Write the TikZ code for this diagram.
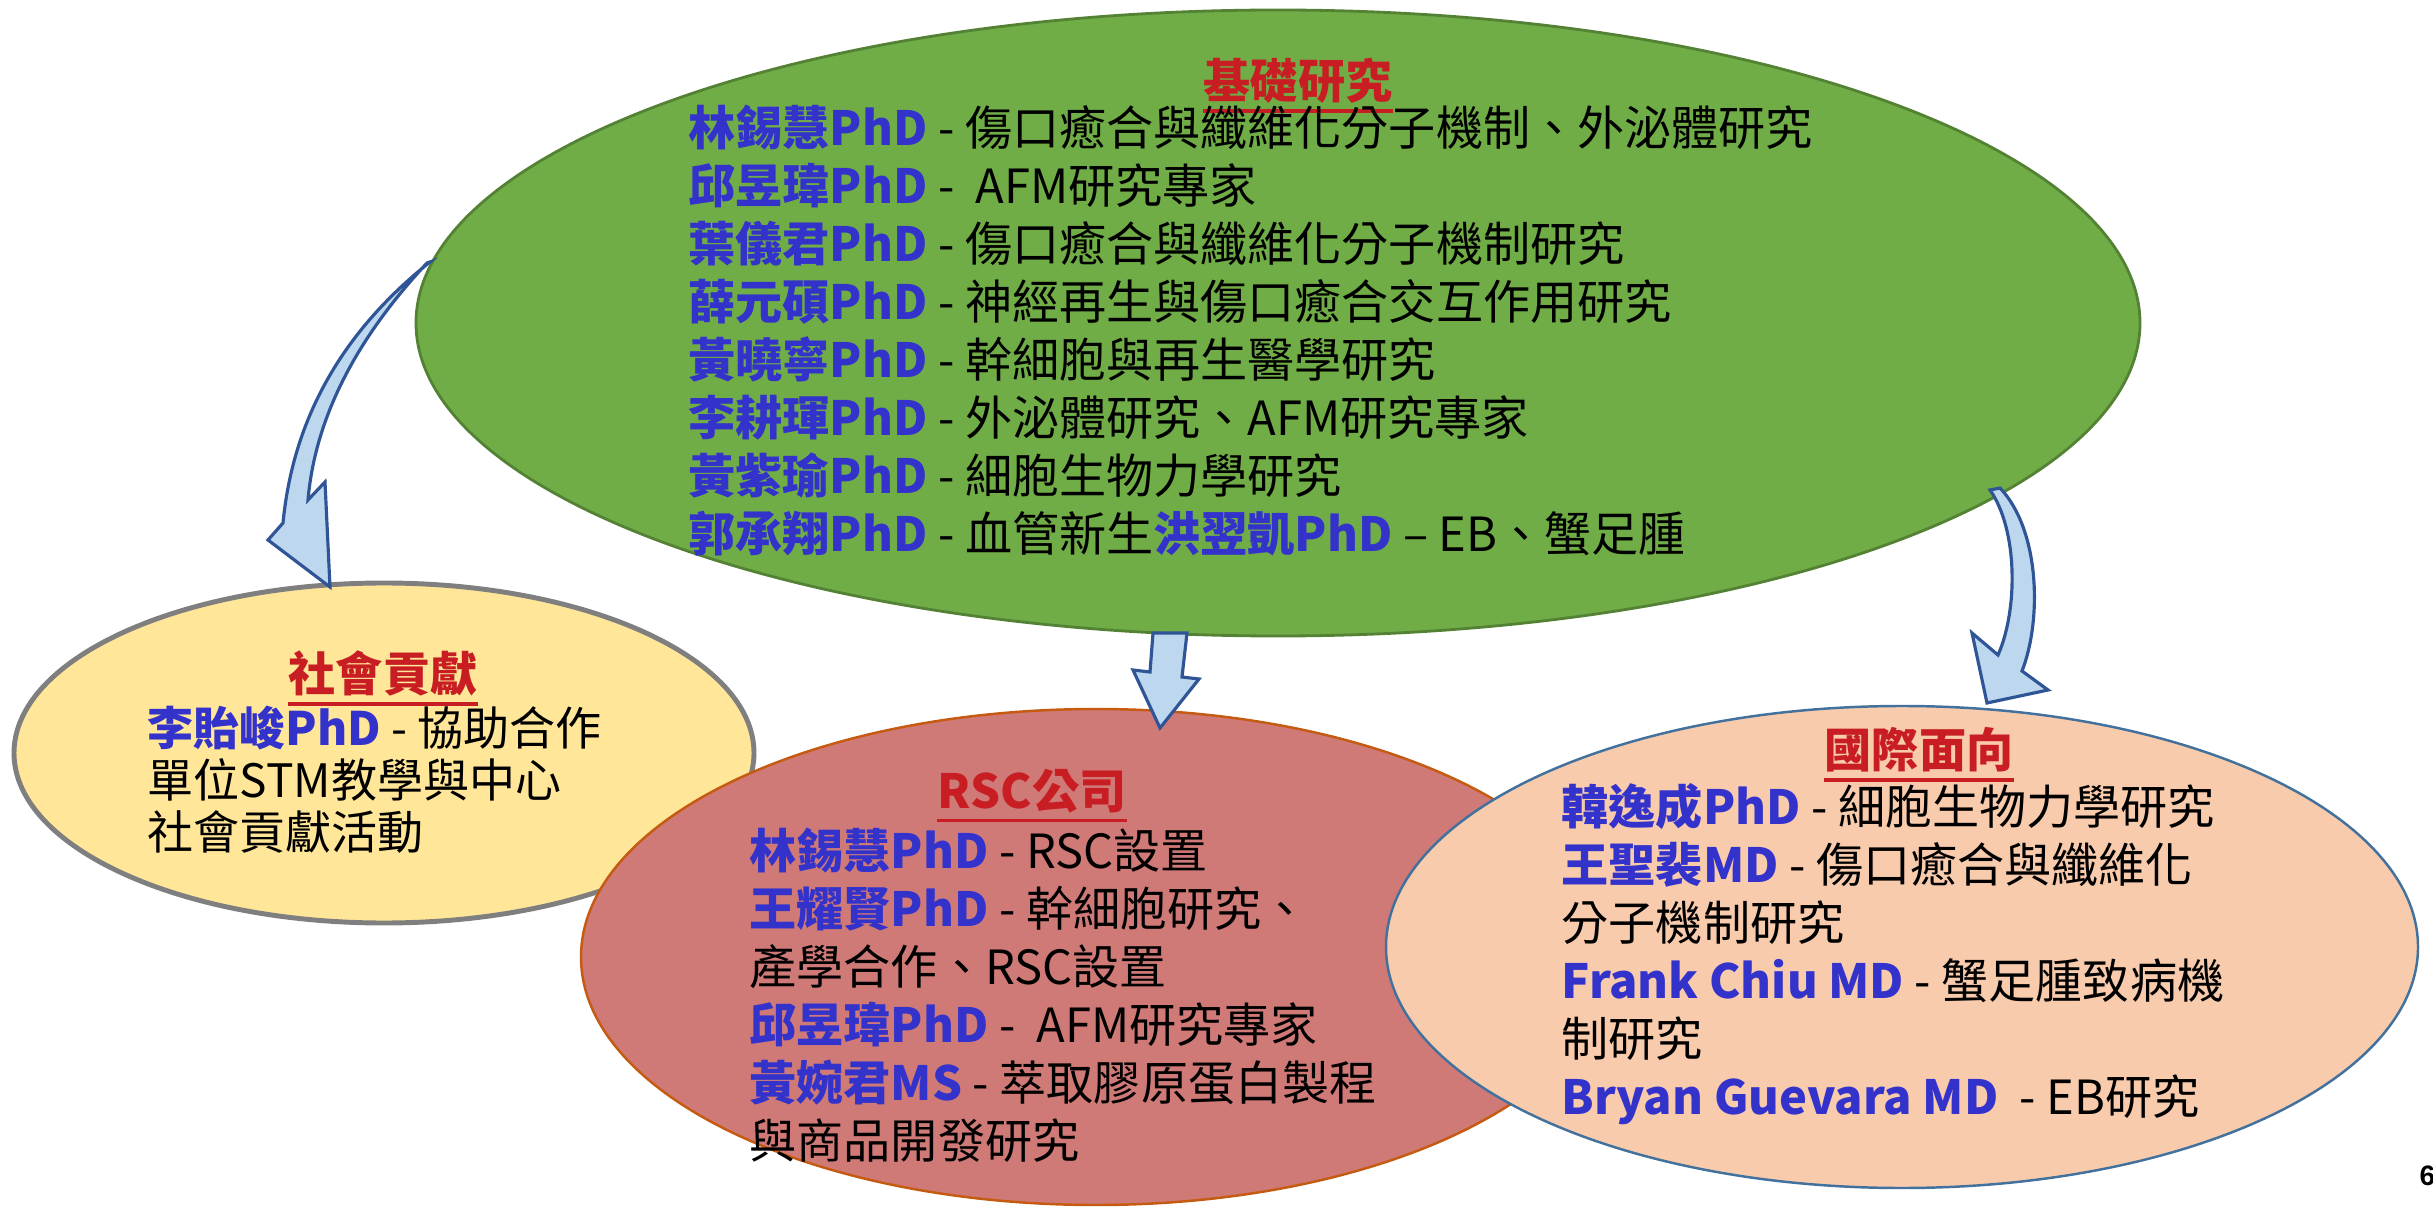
\documentclass[tikz,border=0pt]{standalone}
\usepackage{fontspec}
\setmainfont{Noto Sans CJK TC}
\newfontfamily\pagefont{Liberation Sans}
\usepackage{xcolor}
\usepackage{tikz}
\usetikzlibrary{shapes.geometric}
\definecolor{basicgreen}{RGB}{112,173,71}
\definecolor{basicline}{RGB}{84,130,53}
\definecolor{socialyellow}{RGB}{255,230,153}
\definecolor{socialline}{RGB}{127,127,127}
\definecolor{rscred}{RGB}{208,122,120}
\definecolor{rscline}{RGB}{197,90,17}
\definecolor{intlpeach}{RGB}{248,203,173}
\definecolor{intlline}{RGB}{65,113,156}
\definecolor{arrowfill}{RGB}{189,215,238}
\definecolor{arrowline}{RGB}{47,85,151}
\definecolor{nameblue}{RGB}{51,51,204}
\definecolor{titlered}{RGB}{200,30,35}
\newcommand{\nm}[1]{\textcolor{nameblue}{\bfseries #1}}

\begin{document}
\begin{tikzpicture}[
    blob/.style={ellipse, inner sep=0pt},
    ttl/.style={font=\bfseries\fontsize{13.4}{16.5}\selectfont, text=titlered, inner sep=0pt, anchor=north},
    body/.style={font=\fontsize{13.4}{16.5}\selectfont, align=left, inner sep=0pt, anchor=north west},
    uline/.style={draw=titlered, line width=1.1pt},
    barrow/.style={fill=arrowfill, draw=arrowline, line width=0.9pt, line join=miter}
]
\useasboundingbox (0,0) rectangle (24.33,-12.10);

% Basic research
\node[blob, fill=basicgreen, draw=basicline, line width=0.8pt, minimum width=17.24cm, minimum height=6.26cm] (basic) at (12.78,-3.23) {};
\node[ttl] (basict) at (12.98,-0.57) {基礎研究};
\draw[uline] ([yshift=-2pt]basict.south west) -- ([yshift=-2pt]basict.south east);
\node[body] (basicb) at (6.88,-1.04) {\nm{林錫慧PhD} - 傷口癒合與纖維化分子機制、外泌體研究\\
\nm{邱昱瑋PhD} -\ \ AFM研究專家\\
\nm{葉儀君PhD} - 傷口癒合與纖維化分子機制研究\\
\nm{薛元碩PhD} - 神經再生與傷口癒合交互作用研究\\
\nm{黃曉寧PhD} - 幹細胞與再生醫學研究\\
\nm{李耕琿PhD} - 外泌體研究、AFM研究專家\\
\nm{黃紫瑜PhD} - 細胞生物力學研究\\
\nm{郭承翔PhD} - 血管新生\nm{洪翌凱PhD} – EB、蟹足腫};

% Social contribution
\node[blob, fill=socialyellow, draw=socialline, line width=1.4pt, minimum width=7.40cm, minimum height=3.40cm] (social) at (3.84,-7.53) {};
\node[ttl] (socialt) at (3.83,-6.50) {社會貢獻};
\draw[uline] ([yshift=-2pt]socialt.south west) -- ([yshift=-2pt]socialt.south east);
\node[body, font=\fontsize{13.1}{14.9}\selectfont] (socialb) at (1.47,-7.05) {\nm{李貽峻PhD} - 協助合作\\
單位STM教學與中心\\
社會貢獻活動};

% RSC company
\node[blob, fill=rscred, draw=rscline, line width=0.7pt, minimum width=10.30cm, minimum height=4.96cm] (rsc) at (10.96,-9.57) {};
\node[ttl] (rsct) at (10.32,-7.68) {RSC公司};
\draw[uline] ([yshift=-2pt]rsct.south west) -- ([yshift=-2pt]rsct.south east);
\node[body] (rscb) at (7.49,-8.27) {\nm{林錫慧PhD} - RSC設置\\
\nm{王耀賢PhD} - 幹細胞研究、\\
產學合作、RSC設置\\
\nm{邱昱瑋PhD} -\ \ AFM研究專家\\
\nm{黃婉君MS} - 萃取膠原蛋白製程\\
與商品開發研究};

% International
\node[blob, fill=intlpeach, draw=intlline, line width=0.7pt, minimum width=10.32cm, minimum height=4.82cm] (intl) at (19.02,-9.47) {};
\node[ttl] (intlt) at (19.19,-7.27) {國際面向};
\draw[uline] ([yshift=-2pt]intlt.south west) -- ([yshift=-2pt]intlt.south east);
\node[body] (intlb) at (15.61,-7.83) {\nm{韓逸成PhD} - 細胞生物力學研究\\
\nm{王聖裴MD} - 傷口癒合與纖維化\\
分子機制研究\\
\nm{Frank Chiu MD} - 蟹足腫致病機\\
制研究\\
\nm{Bryan Guevara MD}\ \ - EB研究};

% Block arrows
\draw[barrow] (4.30,-2.62) .. controls (3.42,-3.32) and (2.93,-4.19) .. (2.83,-5.23) -- (2.68,-5.40) -- (3.30,-5.87) -- (3.25,-4.82) -- (3.08,-5.00) .. controls (3.15,-4.19) and (3.55,-3.40) .. (4.27,-2.63) -- cycle;
\draw[barrow] (11.53,-6.33) -- (11.50,-6.72) -- (11.33,-6.70) -- (11.60,-7.28) -- (11.99,-6.79) -- (11.82,-6.77) -- (11.87,-6.33) -- cycle;
\draw[barrow] (19.90,-4.90) .. controls (20.18,-5.30) and (20.18,-6.10) .. (19.98,-6.55) -- (19.72,-6.33) -- (19.87,-7.03) -- (20.48,-6.90) -- (20.22,-6.71) .. controls (20.42,-6.20) and (20.40,-5.30) .. (20.00,-4.88) -- cycle;

% page number
\node[font=\pagefont\bfseries\fontsize{8}{9}\selectfont, anchor=base west, inner sep=0pt] (pgno) at (24.19,-11.85) {6};
\end{tikzpicture}
\end{document}
